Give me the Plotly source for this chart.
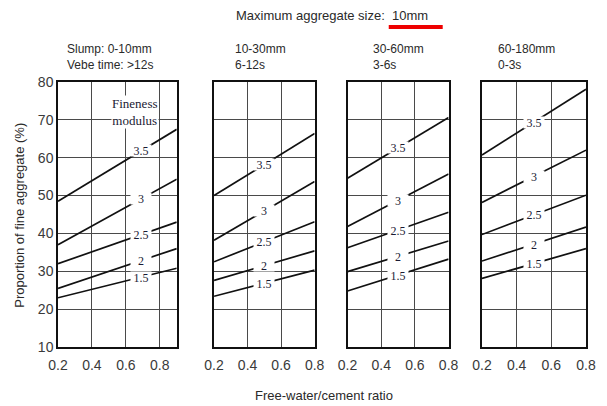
import plotly.graph_objects as go

# ---- data ----
fineness = ["3.5", "3", "2.5", "2", "1.5"]
panel_headers = ["Slump: 0-10mm<br>Vebe time: >12s", "10-30mm<br>6-12s",
                 "30-60mm<br>3-6s", "60-180mm<br>0-3s"]
x_start = [0.2, 0.2, 0.2, 0.2]
x_end = [0.9, 0.8, 0.8, 0.8]
# proportion of fine aggregate (%) at start (w/c=0.2) and end of each line
p1_start = [48.5, 37.0, 32.0, 25.5, 23.0]
p1_end = [67.5, 54.3, 43.0, 36.0, 30.8]
p2_start = [50.0, 38.2, 32.5, 27.6, 23.4]
p2_end = [66.4, 53.7, 43.1, 35.4, 30.3]
p3_start = [54.6, 41.8, 36.2, 29.9, 24.8]
p3_end = [70.6, 55.7, 45.6, 38.0, 33.2]
p4_start = [60.7, 48.2, 39.7, 32.7, 28.1]
p4_end = [78.1, 62.0, 50.1, 41.7, 36.0]
starts = [p1_start, p2_start, p3_start, p4_start]
ends = [p1_end, p2_end, p3_end, p4_end]
label_x = [0.69, 0.5, 0.5, 0.5]
x_ticks = [0.2, 0.4, 0.6, 0.8]
y_ticks = [10, 20, 30, 40, 50, 60, 70, 80]

# page offset (body margin of the html page)
OFF = 8
W, H = 607 - OFF, 406 - OFF
# plot area in page pixels
PL, PR, PT, PB = 58, 596, 82, 347
ML, MT = PL - OFF, PT - OFF
MR = W - (PR - OFF)
MB = H - (PB - OFF)
pw = PR - PL
ph = PB - PT

def px2x(px):
    return (px - PL) / pw

def py2y(py):
    return (PB - py) / ph

domains_px = [(58, 179), (217, 319.5), (353, 456), (490, 596)]

fig = go.Figure()
annotations = []
sans = "Liberation Sans"
serif = "Liberation Serif"

for i in range(4):
    xa = "x" if i == 0 else f"x{i+1}"
    ya = "y" if i == 0 else f"y{i+1}"
    for j, fm in enumerate(fineness):
        fig.add_trace(go.Scatter(
            x=[x_start[i], x_end[i]], y=[starts[i][j], ends[i][j]],
            mode="lines", line=dict(color="#111111", width=1.7),
            xaxis=xa, yaxis=ya, showlegend=False, hoverinfo="skip"))
        t = (label_x[i] - x_start[i]) / (x_end[i] - x_start[i])
        ly = starts[i][j] + t * (ends[i][j] - starts[i][j])
        annotations.append(dict(
            x=label_x[i], y=ly, xref=xa, yref=ya, text=fm, showarrow=False,
            font=dict(family=serif, size=12, color="#1a1a33"),
            bgcolor="white", width=20, height=11, borderpad=0))
    key = "" if i == 0 else str(i + 1)
    d0, d1 = domains_px[i]
    fig.update_layout(**{
        f"xaxis{key}": dict(
            domain=[px2x(d0), min(1.0, px2x(d1))], range=[x_start[i], x_end[i]],
            anchor=ya, tickvals=x_ticks, ticktext=[f"{v:.1f}" for v in x_ticks],
            showgrid=True, gridcolor="#4a4a4a", gridwidth=1,
            showline=True, mirror=True, linecolor="#111111", linewidth=1.5,
            zeroline=False, ticks="", ticklabelstandoff=4,
            tickfont=dict(family=sans, size=14, color="#3a3a3a")),
        f"yaxis{key}": dict(
            domain=[0, 1], range=[10, 80], anchor=xa, tickvals=y_ticks,
            showticklabels=(i == 0),
            showgrid=True, gridcolor="#4a4a4a", gridwidth=1,
            showline=True, mirror=True, linecolor="#111111", linewidth=1.5,
            zeroline=False, ticks="",
            tickfont=dict(family=sans, size=14, color="#3a3a3a")),
    })

# Fineness modulus label
annotations.append(dict(
    x=0.655, y=72, xref="x", yref="y", text="Fineness<br>modulus",
    showarrow=False, font=dict(family=serif, size=13, color="#1a1a33"),
    bgcolor="white", borderpad=0))

# headers
header_x = [66, 237, 378, 505]
for i in range(4):
    annotations.append(dict(
        x=px2x(header_x[i]), y=py2y(57), xref="paper", yref="paper",
        xanchor="left", yanchor="middle", align="left", text=panel_headers[i],
        showarrow=False, borderpad=0,
        font=dict(family=sans, size=12, color="#2a2a2a")))

# top title
annotations.append(dict(
    x=px2x(237), y=py2y(15), xref="paper", yref="paper", xanchor="left",
    yanchor="middle", text="Maximum aggregate size:  10mm", showarrow=False,
    font=dict(family=sans, size=13, color="#2a2a2a")))

# axis titles
annotations.append(dict(
    x=px2x(329), y=py2y(395), xref="paper", yref="paper", xanchor="center",
    yanchor="middle", text="Free-water/cement ratio", showarrow=False,
    font=dict(family=sans, size=13, color="#2a2a2a")))
annotations.append(dict(
    x=px2x(18), y=py2y(215), xref="paper", yref="paper", xanchor="center",
    yanchor="middle", text="Proportion of fine aggregate (%)", showarrow=False,
    textangle=-90, font=dict(family=sans, size=13, color="#2a2a2a")))

fig.update_layout(
    width=W, height=H,
    margin=dict(l=ML, r=MR, t=MT, b=MB, pad=0),
    paper_bgcolor="white", plot_bgcolor="white",
    annotations=annotations,
    shapes=[dict(type="rect", xref="paper", yref="paper",
                 x0=px2x(395), x1=px2x(450), y0=py2y(29), y1=py2y(25),
                 fillcolor="#ee0000", line=dict(width=0))],
)

fig.write_html("out.html")
